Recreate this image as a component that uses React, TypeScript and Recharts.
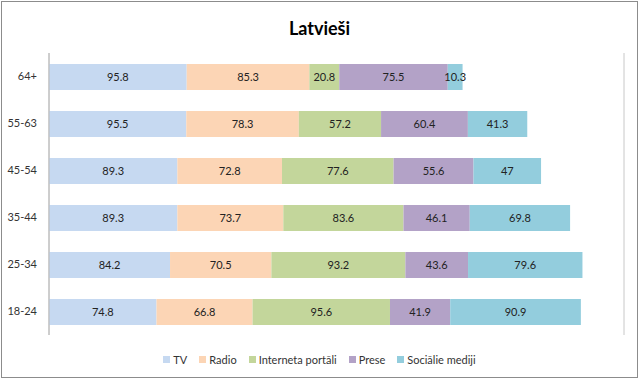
import React from "react";
import { BarChart, Bar, XAxis, YAxis, CartesianGrid, Legend, LabelList } from "recharts";

const groups = ["64+", "55-63", "45-54", "35-44", "25-34", "18-24"];
const tv = [95.8, 95.5, 89.3, 89.3, 84.2, 74.8];
const radio = [85.3, 78.3, 72.8, 73.7, 70.5, 66.8];
const portali = [20.8, 57.2, 77.6, 83.6, 93.2, 95.6];
const prese = [75.5, 60.4, 55.6, 46.1, 43.6, 41.9];
const socialie = [10.3, 41.3, 47, 69.8, 79.6, 90.9];
const xTicks = [0, 50, 100, 150, 200, 250, 300, 350, 400];

const series = [
  { key: "tv", name: "TV", color: "#c6d9f1" },
  { key: "radio", name: "Radio", color: "#fcd5b5" },
  { key: "portali", name: "Interneta portāli", color: "#c3d69b" },
  { key: "prese", name: "Prese", color: "#b3a2c7" },
  { key: "socialie", name: "Sociālie mediji", color: "#93cddd" },
];

const data = groups.map((g, i) => ({
  group: g,
  tv: tv[i],
  radio: radio[i],
  portali: portali[i],
  prese: prese[i],
  socialie: socialie[i],
}));

const font = "Lato, 'Noto Sans', sans-serif";

function LegendBox() {
  return (
    <div style={{ display: "flex", justifyContent: "center", fontSize: 11, color: "#333", fontFamily: font }}>
      {series.map((s) => (
        <span key={s.key} style={{ display: "inline-flex", alignItems: "center", margin: "0 6px" }}>
          <span style={{ width: 7, height: 7, background: s.color, marginRight: 3, display: "inline-block" }} />
          {s.name}
        </span>
      ))}
    </div>
  );
}

export default function App() {
  return (
    <div style={{ position: "relative", width: 639, height: 379, fontFamily: font, background: "#fff" }}>
      <style>{`body{margin:0}`}</style>
      <div
        style={{
          position: "absolute",
          left: 1,
          top: 1,
          width: 637,
          height: 377,
          border: "1px solid #8c8c8c",
          boxSizing: "border-box",
          pointerEvents: "none",
        }}
      />
      <div
        style={{
          position: "absolute",
          top: 17,
          left: 0,
          width: 639,
          textAlign: "center",
          fontWeight: 700,
          fontSize: 18,
          color: "#000",
        }}
      >
        Latvieši
      </div>
      <BarChart
        width={639}
        height={379}
        data={data}
        layout="vertical"
        margin={{ top: 53, right: 15, bottom: 44, left: 0 }}
        barSize={26}
      >
        <CartesianGrid stroke="#c8c8c8" horizontal={false} />
        <XAxis
          type="number"
          domain={[0, 400]}
          ticks={xTicks}
          tick={false}
          axisLine={false}
          tickLine={false}
          height={0}
        />
        <YAxis
          type="category"
          dataKey="group"
          width={49}
          tickLine={false}
          axisLine={{ stroke: "#b8b8b8" }}
          tickMargin={6}
          tick={{ fill: "#333", fontSize: 11, fontFamily: font }}
        />
        <Legend
          layout="horizontal"
          verticalAlign="middle"
          align="center"
          wrapperStyle={{ top: 353, left: 0, width: 639 }}
          content={() => <LegendBox />}
        />
        {series.map((s) => (
          <Bar key={s.key} dataKey={s.key} name={s.name} stackId="a" fill={s.color} isAnimationActive={false}>
            <LabelList dataKey={s.key} position="center" fill="#222" fontSize={11} fontFamily={font} />
          </Bar>
        ))}
      </BarChart>
    </div>
  );
}
